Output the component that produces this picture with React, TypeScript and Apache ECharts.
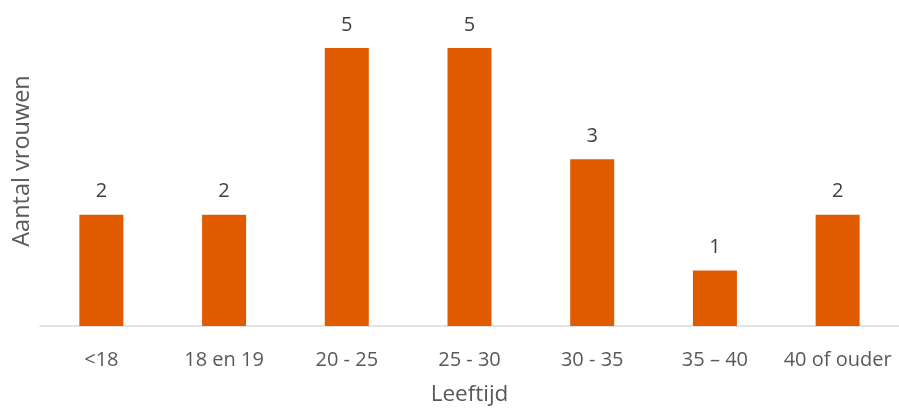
import React, { useEffect, useRef } from "react";
import * as echarts from "echarts";

const categories = ["<18", "18 en 19", "20 - 25", "25 - 30", "30 - 35", "35 – 40", "40 of ouder"];
const values = [2, 2, 5, 5, 3, 1, 2];
const xAxisTitle = "Leeftijd";
const yAxisTitle = "Aantal vrouwen";

const FONT = "'Open Sans', sans-serif";

export default function App() {
  const ref = useRef<HTMLDivElement>(null);
  useEffect(() => {
    if (!ref.current) return;
    document.body.style.margin = "0";
    document.body.style.overflow = "hidden";
    const chart = echarts.init(ref.current, undefined, { renderer: "svg" });
    chart.setOption({
      animation: false,
      grid: { left: 40, right: 0, top: 48, bottom: 82, outerBoundsMode: "none", containLabel: false },
      xAxis: {
        type: "category",
        data: categories,
        axisLine: { lineStyle: { color: "#d9d9d9", width: 1.5 } },
        axisTick: { show: false },
        axisLabel: { color: "#595959", fontSize: 20, fontFamily: FONT, margin: 22, interval: 0 },
        name: xAxisTitle,
        nameLocation: "middle",
        nameGap: 56,
        nameTextStyle: { color: "#595959", fontSize: 22.5, fontFamily: FONT, lineHeight: 20, verticalAlign: "top" },
      },
      yAxis: { type: "value", min: 0, max: 5, show: false },
      graphic: [
        {
          type: "text",
          x: 20,
          y: 161,
          rotation: Math.PI / 2,
          style: { text: yAxisTitle, fill: "#595959", font: `23.5px ${FONT}`, align: "center", verticalAlign: "middle" },
        },
      ],
      series: [
        {
          type: "bar",
          data: values,
          barWidth: 44,
          itemStyle: { color: "#E05A00" },
          label: { show: true, position: "top", distance: 15, color: "#404040", fontSize: 20, fontFamily: FONT },
        },
      ],
    });
    return () => chart.dispose();
  }, []);
  return (
    <div style={{ width: 899, height: 408, overflow: "hidden", position: "fixed", left: 0, top: 0 }}>
      <div ref={ref} style={{ width: 899, height: 408 }} />
    </div>
  );
}
